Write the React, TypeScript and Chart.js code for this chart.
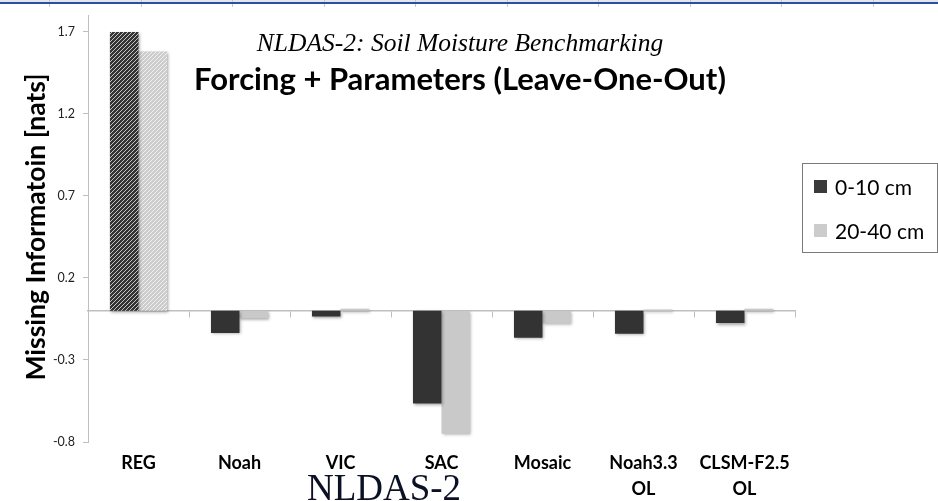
import React, { useEffect, useRef } from "react";
import { Chart, registerables } from "chart.js";

Chart.register(...registerables);

const categories: (string | string[])[] = ["REG", "Noah", "VIC", "SAC", "Mosaic", ["Noah3.3", "OL"], ["CLSM-F2.5", "OL"]];
const shallow = [1.70, -0.135, -0.035, -0.565, -0.165, -0.14, -0.075];
const deep = [1.58, -0.045, 0.012, -0.75, -0.078, 0.008, 0.012];
const seriesNames = ["0-10 cm", "20-40 cm"];
const yTicks = [-0.8, -0.3, 0.2, 0.7, 1.2, 1.7];
const yTitle = "Missing Informatoin [nats]";
const title1 = "NLDAS-2: Soil Moisture Benchmarking";
const title2 = "Forcing + Parameters (Leave-One-Out)";
const footer = "NLDAS-2";

const DARK = "#333333";
const LIGHT = "#c9c9c9";
const SANS = "Lato, 'Open Sans', sans-serif";
const SERIF = "'Liberation Serif', 'DejaVu Serif', serif";

function makeHatch(base: string, stripe: string): CanvasPattern | string {
  const c = document.createElement("canvas");
  c.width = 4;
  c.height = 4;
  const g = c.getContext("2d");
  if (!g) return base;
  g.fillStyle = base;
  g.fillRect(0, 0, 4, 4);
  g.strokeStyle = stripe;
  g.lineWidth = 0.9;
  g.beginPath();
  g.moveTo(-1, 5); g.lineTo(5, -1);
  g.moveTo(-1, 1); g.lineTo(1, -1);
  g.moveTo(3, 5); g.lineTo(5, 3);
  g.stroke();
  const p = g.createPattern(c, "repeat");
  return p || base;
}

export default function App() {
  const ref = useRef<HTMLCanvasElement | null>(null);

  useEffect(() => {
    const canvas = ref.current;
    if (!canvas) return;
    const darkHatch = makeHatch(DARK, "#d8d8d8");
    const lightHatch = makeHatch("#cdcdcd", "#f4f4f4");
    const darkColors = shallow.map((_, i) => (i === 0 ? darkHatch : DARK));
    const lightColors = deep.map((_, i) => (i === 0 ? lightHatch : LIGHT));

    const decor = {
      id: "decor",
      beforeDraw(chart: any) {
        const ctx = chart.ctx;
        ctx.save();
        ctx.fillStyle = "#ffffff";
        ctx.fillRect(0, 0, chart.width, chart.height);
        ctx.fillStyle = "#e3e6ec";
        ctx.fillRect(0, 0, chart.width, 2);
        ctx.fillStyle = "#c9c9c9";
        for (let x = 49; x < chart.width; x += 91.5) ctx.fillRect(Math.round(x), 0, 1, 7);
        ctx.fillStyle = "#2b50a2";
        ctx.fillRect(0, 2, chart.width, 2);
        ctx.restore();
      },
      beforeDatasetsDraw(chart: any) {
        const ctx = chart.ctx;
        ctx.save();
        ctx.shadowColor = "rgba(0,0,0,0.35)";
        ctx.shadowBlur = 3;
        ctx.shadowOffsetX = 1;
        ctx.shadowOffsetY = 1.5;
      },
      afterDatasetsDraw(chart: any) {
        chart.ctx.restore();
      },
      afterDraw(chart: any) {
        const ctx = chart.ctx;
        ctx.save();
        // titles
        ctx.fillStyle = "#000";
        ctx.textAlign = "center";
        ctx.textBaseline = "alphabetic";
        ctx.font = `italic 25.5px ${SERIF}`;
        ctx.fillText(title1, 460, 51);
        ctx.font = `bold 31px ${SANS}`;
        ctx.fillText(title2, 460, 90);
        // footer
        ctx.fillStyle = "#0b1024";
        ctx.font = `37px ${SERIF}`;
        ctx.fillText(footer, 384, 500);
        // y title
        ctx.save();
        ctx.translate(36, 227);
        ctx.rotate(-Math.PI / 2);
        ctx.fillStyle = "#000";
        ctx.textBaseline = "middle";
        ctx.font = `bold 26.5px ${SANS}`;
        ctx.fillText(yTitle, 0, 0);
        ctx.restore();
        // legend
        ctx.strokeStyle = "#7a7a7a";
        ctx.lineWidth = 1;
        ctx.strokeRect(802.5, 163.5, 135, 89);
        const legendColors = ["#3a3a3a", "#cccccc"];
        const rowY = [187, 231];
        ctx.textAlign = "left";
        ctx.textBaseline = "middle";
        ctx.font = `21px ${SANS}`;
        seriesNames.forEach((name, i) => {
          ctx.fillStyle = legendColors[i];
          ctx.fillRect(814, rowY[i] - 7, 13, 13);
          ctx.fillStyle = "#000";
          ctx.fillText(name, 835, rowY[i] + 1);
        });
        ctx.restore();
      },
    };

    const chart = new Chart(canvas, {
      type: "bar",
      data: {
        labels: categories as any,
        datasets: [
          { label: seriesNames[0], data: shallow, backgroundColor: darkColors as any, xAxisID: "x", yAxisID: "y" },
          { label: seriesNames[1], data: deep, backgroundColor: lightColors as any, xAxisID: "x", yAxisID: "y" },
        ],
      },
      options: {
        responsive: false,
        animation: false,
        devicePixelRatio: 1,
        layout: { padding: { top: 13, right: 143, left: 0, bottom: 0 } },
        datasets: { bar: { categoryPercentage: 0.565, barPercentage: 1.0 } },
        plugins: { legend: { display: false }, tooltip: { enabled: false }, title: { display: false } },
        scales: {
          y: {
            min: -0.8,
            max: 1.8,
            afterBuildTicks: (scale: any) => {
              scale.ticks = yTicks.map((v) => ({ value: v }));
            },
            afterFit: (scale: any) => {
              scale.width = 88;
            },
            grid: { display: true, drawOnChartArea: false, drawTicks: true, tickLength: 5, color: "#bfbfbf" },
            border: { display: true, color: "#bfbfbf", width: 1 },
            ticks: {
              padding: 8,
              color: "#222",
              font: { family: SANS, size: 12.5 },
              callback: (v: any) => Number(v).toFixed(1),
            },
          },
          x: {
            type: "category",
            position: { y: 0 } as any,
            offset: true,
            grid: { display: true, offset: true, drawOnChartArea: false, drawTicks: true, tickLength: 6, color: "#bfbfbf" },
            border: { display: true, color: "#bfbfbf", width: 1.5 },
            ticks: { display: false },
          },
          x2: {
            type: "category",
            position: "bottom",
            offset: true,
            afterFit: (scale: any) => {
              scale.height = 59;
            },
            grid: { display: false, drawTicks: false },
            border: { display: false },
            ticks: {
              padding: 8,
              color: "#000",
              maxRotation: 0,
              autoSkip: false,
              font: { family: SANS, size: 18, weight: "bold", lineHeight: 1.45 },
            },
          },
        },
      } as any,
      plugins: [decor],
    });
    return () => chart.destroy();
  }, []);

  return (
    <div style={{ position: "absolute", left: 0, top: 0, width: 938, height: 501, background: "#fff" }}>
      <canvas ref={ref} width={938} height={501} style={{ display: "block" }} />
    </div>
  );
}
